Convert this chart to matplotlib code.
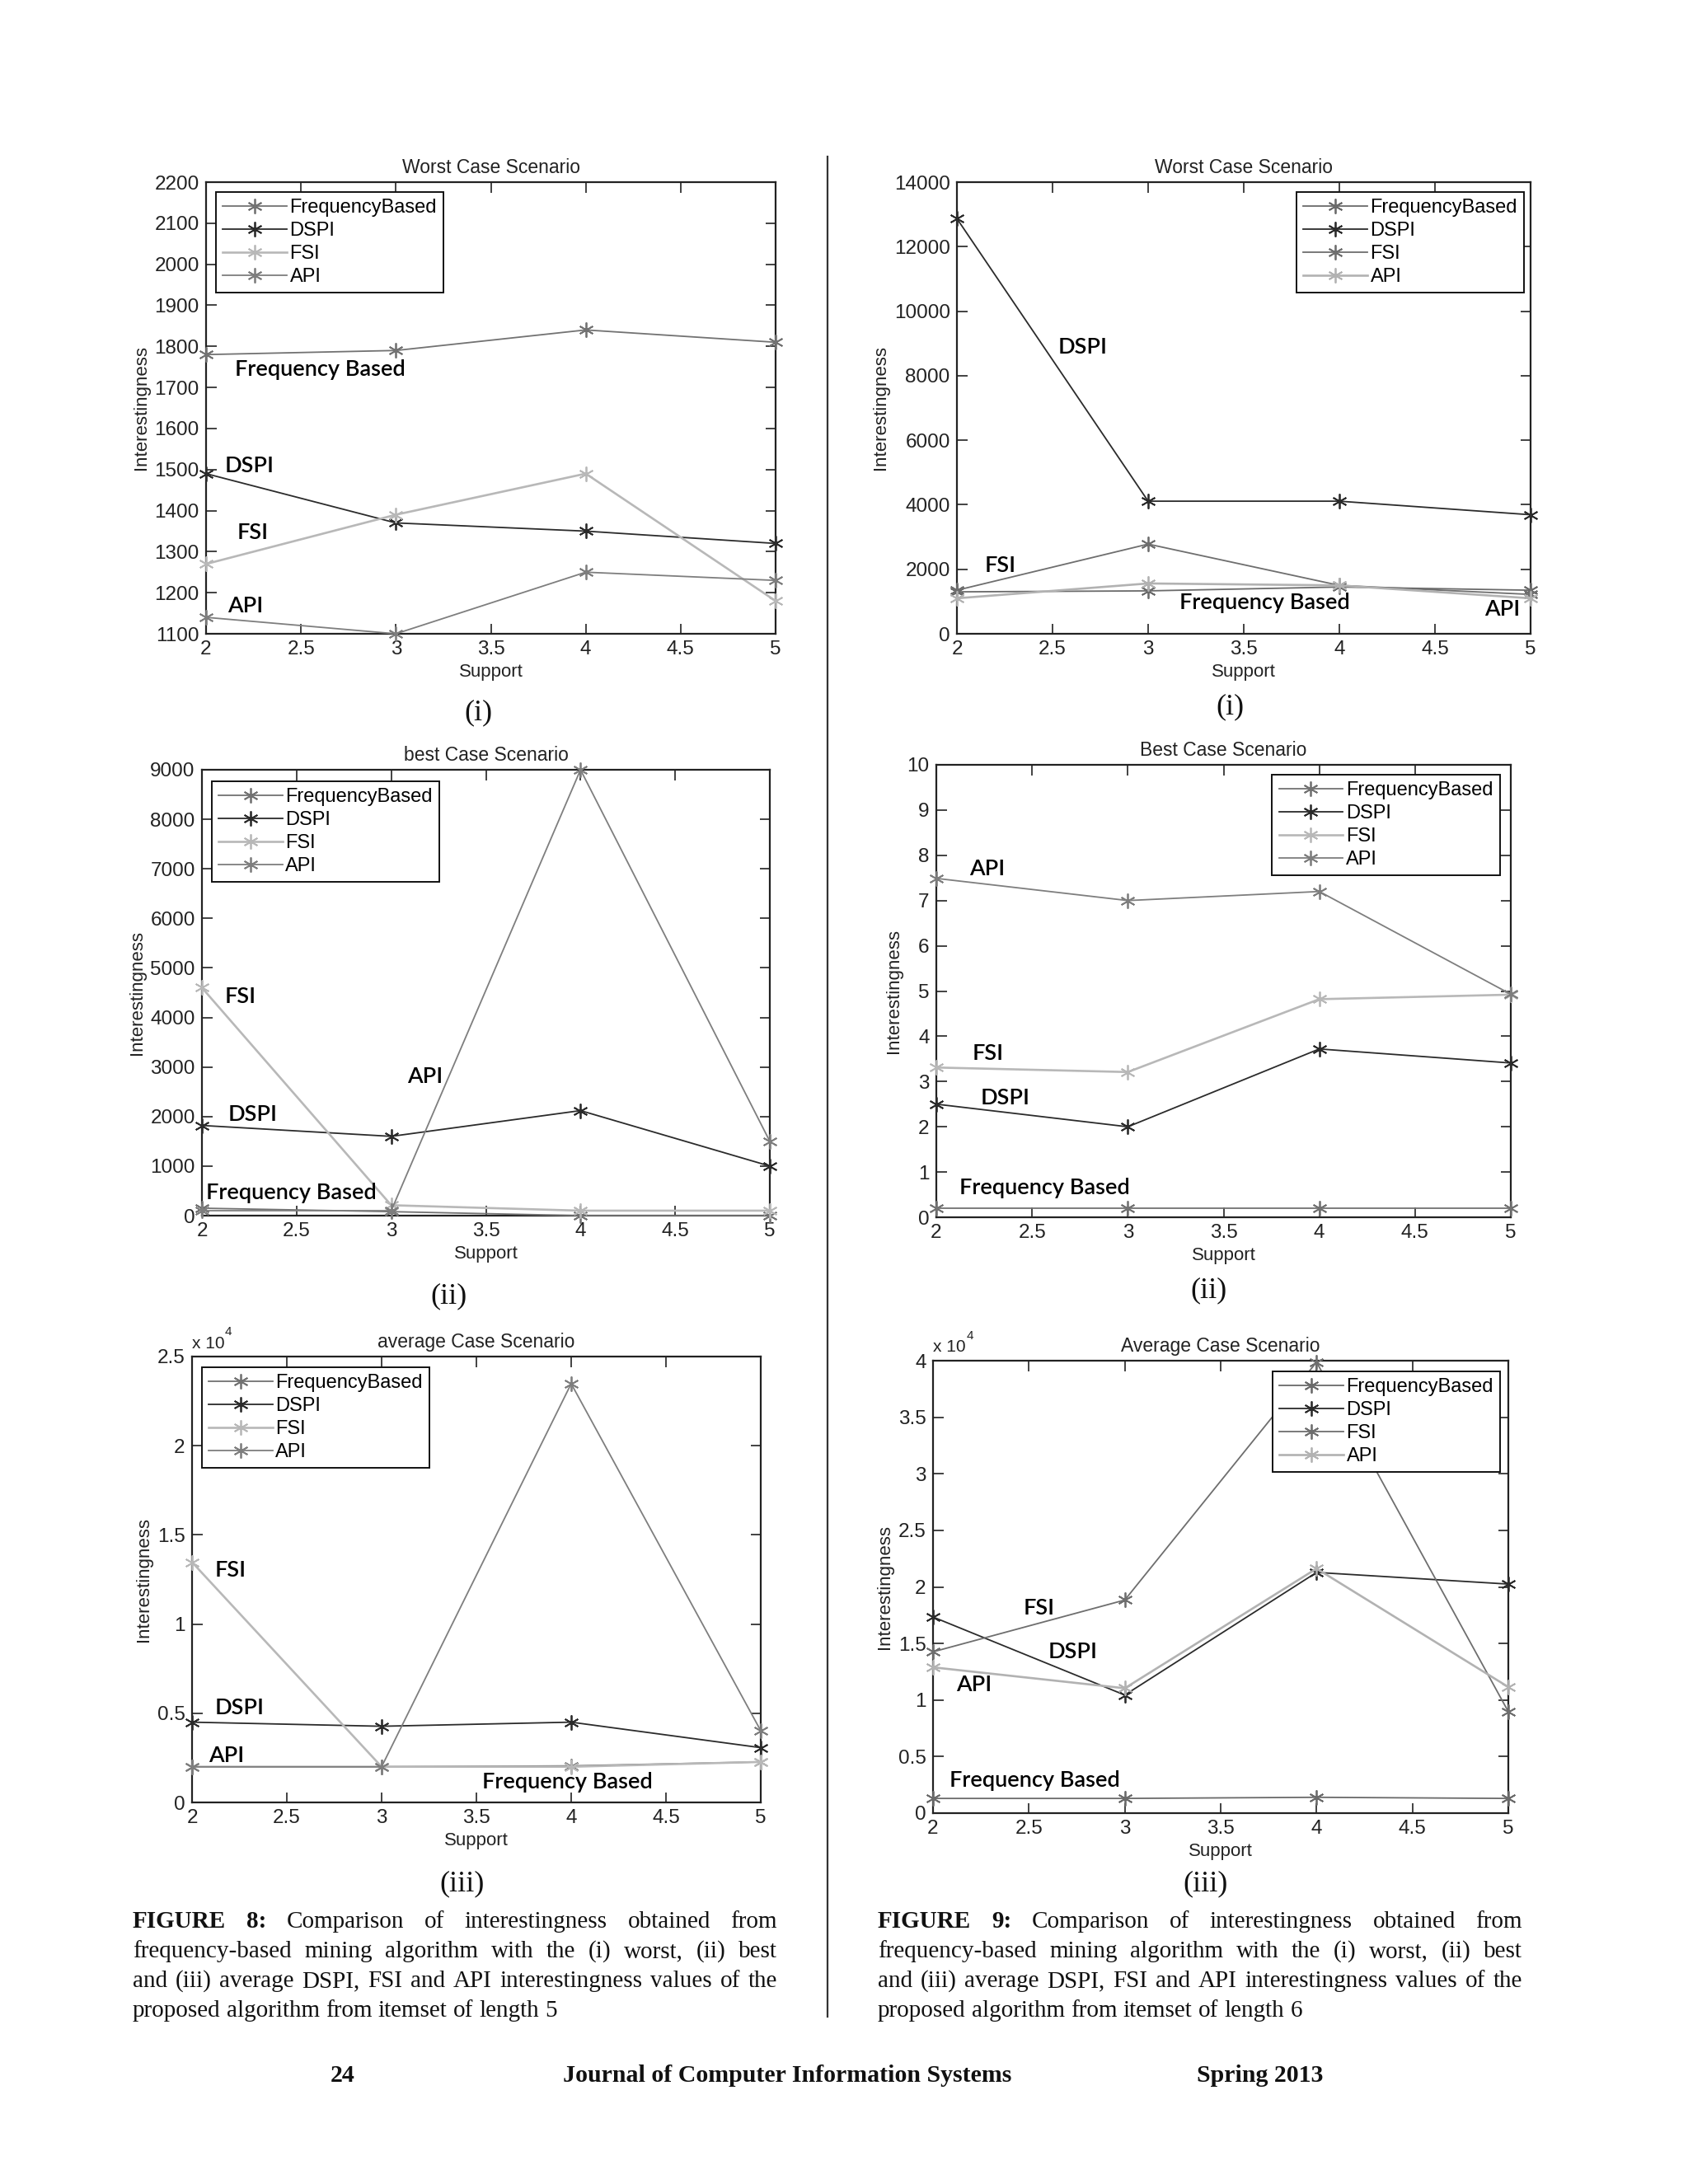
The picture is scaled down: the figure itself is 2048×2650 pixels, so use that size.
import matplotlib
matplotlib.use('Agg')
import matplotlib.pyplot as plt
from matplotlib.ticker import FuncFormatter, MultipleLocator
from matplotlib.lines import Line2D

plt.rcParams['font.family'] = ['Liberation Sans Narrow', 'Liberation Sans', 'DejaVu Sans']

support = [2, 3, 4, 5]
series_names = ['FrequencyBased', 'DSPI', 'FSI', 'API']

# itemset length 5
worst5_freq = [1780, 1790, 1840, 1810]
worst5_dspi = [1490, 1370, 1350, 1320]
worst5_fsi = [1270, 1390, 1490, 1180]
worst5_api = [1140, 1100, 1250, 1230]

best5_freq = [150, 80, 0, 0]
best5_dspi = [1820, 1600, 2120, 1000]
best5_fsi = [4600, 210, 100, 100]
best5_api = [100, 100, 9000, 1500]

avg5_freq = [2000, 2000, 2050, 2270]
avg5_dspi = [4500, 4270, 4500, 3070]
avg5_fsi = [13470, 2000, 2000, 2270]
avg5_api = [2000, 2000, 23480, 4020]

# itemset length 6
worst6_freq = [1300, 1330, 1450, 1350]
worst6_dspi = [12870, 4110, 4110, 3690]
worst6_fsi = [1350, 2780, 1500, 1220]
worst6_api = [1100, 1560, 1500, 1100]

best6_freq = [0.2, 0.2, 0.2, 0.2]
best6_dspi = [2.5, 2.0, 3.72, 3.41]
best6_fsi = [3.31, 3.21, 4.82, 4.92]
best6_api = [7.49, 7.0, 7.2, 4.93]

avg6_freq = [1300, 1300, 1400, 1300]
avg6_dspi = [17340, 10440, 21280, 20250]
avg6_fsi = [14260, 18840, 39870, 8970]
avg6_api = [12890, 11040, 21620, 11150]

# grey tones as in the printed figure
greys_a = ['#727272', '#2b2b2b', '#b8b8b8', '#7e7e7e']
greys_b = ['#6a6a6a', '#2b2b2b', '#6e6e6e', '#b2b2b2']

W, H = 2048, 2650
fig = plt.figure(figsize=(W / 100, H / 100), dpi=100)
fig.patch.set_facecolor('white')

asterisk = (6, 2, 0)


def px_axes(x0, y0, x1, y1):
    return fig.add_axes([x0 / W, 1 - y1 / H, (x1 - x0) / W, (y1 - y0) / H])


def draw_panel(ax, title, data, colors, ylim, ystep, scale, leg_loc, leg_anchor, notes):
    for vals, name, c in zip(data, series_names, colors):
        lw = 1.9 if c in ('#b8b8b8', '#b2b2b2') else 1.3
        ax.plot(support, vals, color=c, lw=lw, marker=asterisk, ms=13, mew=1.3,
                label=name, clip_on=False, zorder=3)
    ax.set_xlim(2, 5)
    ax.set_ylim(*ylim)
    ax.xaxis.set_major_locator(MultipleLocator(0.5))
    ax.yaxis.set_major_locator(MultipleLocator(ystep))
    ax.xaxis.set_major_formatter(FuncFormatter(lambda v, p: '%g' % v))
    ax.yaxis.set_major_formatter(FuncFormatter(lambda v, p: '%g' % (v / scale)))
    ax.tick_params(direction='in', length=9, width=1.2, top=True, right=True,
                   labelsize=17.5, pad=6, colors='#222222')
    for s in ax.spines.values():
        s.set_linewidth(1.6)
        s.set_color('#222222')
    ax.set_title(title, fontsize=16.5, color='#222222', pad=8)
    ax.set_xlabel('Support', fontsize=16, color='#222222', labelpad=4)
    ax.set_ylabel('Interestingness', fontsize=16, color='#222222', labelpad=4)
    leg = ax.legend(loc=leg_loc, bbox_to_anchor=leg_anchor, borderaxespad=0,
                    fontsize=17, handlelength=3.3, handletextpad=0.15,
                    labelspacing=0.25, borderpad=0.35, fancybox=False,
                    framealpha=1, edgecolor='#111111')
    leg.get_frame().set_linewidth(1.4)
    for txt, x, y in notes:
        ax.text(x, y, txt, family=['Lato', 'DejaVu Sans'], fontsize=19.5,
                fontweight='semibold', ha='left', va='center', color='black',
                zorder=5)
    if scale != 1:
        ax.text(0.0, 1.012, 'x 10', transform=ax.transAxes, fontsize=15,
                ha='left', va='bottom', color='#222222')
        ax.text(0.058, 1.042, '4', transform=ax.transAxes, fontsize=11,
                ha='left', va='bottom', color='#222222')


# FIGURE 8 (left column)
ax = px_axes(250, 221, 941, 769)
draw_panel(ax, 'Worst Case Scenario',
           [worst5_freq, worst5_dspi, worst5_fsi, worst5_api], greys_a,
           (1100, 2200), 100, 1, 'upper left', (0.017, 0.978),
           [('Frequency Based', 2.15, 1743), ('DSPI', 2.10, 1508),
            ('FSI', 2.165, 1345), ('API', 2.115, 1168)])

ax = px_axes(245, 934, 934, 1475)
draw_panel(ax, 'best Case Scenario',
           [best5_freq, best5_dspi, best5_fsi, best5_api], greys_a,
           (0, 9000), 1000, 1, 'upper left', (0.017, 0.974),
           [('FSI', 2.12, 4420), ('API', 3.085, 2810),
            ('DSPI', 2.137, 2030), ('Frequency Based', 2.02, 460)])

ax = px_axes(233, 1646, 923, 2187)
draw_panel(ax, 'average Case Scenario',
           [avg5_freq, avg5_dspi, avg5_fsi, avg5_api], greys_a,
           (0, 25000), 5000, 1e4, 'upper left', (0.017, 0.976),
           [('FSI', 2.12, 13000), ('DSPI', 2.12, 5300),
            ('API', 2.087, 2620), ('Frequency Based', 3.53, 1130)])

# FIGURE 9 (right column)
ax = px_axes(1161, 221, 1857, 769)
draw_panel(ax, 'Worst Case Scenario',
           [worst6_freq, worst6_dspi, worst6_fsi, worst6_api], greys_b,
           (0, 14000), 2000, 1, 'upper right', (0.989, 0.978),
           [('DSPI', 2.53, 8890), ('FSI', 2.143, 2120),
            ('Frequency Based', 3.163, 970), ('API', 4.76, 760)])

ax = px_axes(1136, 928, 1833, 1477)
draw_panel(ax, 'Best Case Scenario',
           [best6_freq, best6_dspi, best6_fsi, best6_api], greys_a,
           (0, 10), 1, 1, 'upper right', (0.981, 0.978),
           [('API', 2.173, 7.69), ('FSI', 2.187, 3.62),
            ('DSPI', 2.231, 2.64), ('Frequency Based', 2.12, 0.64)])

ax = px_axes(1132, 1651, 1830, 2200)
draw_panel(ax, 'Average Case Scenario',
           [avg6_freq, avg6_dspi, avg6_fsi, avg6_api], greys_b,
           (0, 40000), 5000, 1e4, 'upper right', (0.986, 0.976),
           [('FSI', 2.473, 18080), ('DSPI', 2.60, 14260),
            ('API', 2.122, 11320), ('Frequency Based', 2.088, 2890)])

# sub captions
serif = ['Liberation Serif', 'DejaVu Serif']
for txt, x, y in [('(i)', 580, 865), ('(ii)', 544, 1573), ('(iii)', 561, 2286),
                  ('(i)', 1492, 858), ('(ii)', 1467, 1566), ('(iii)', 1463, 2286)]:
    fig.text(x / W, 1 - y / H, txt, family=serif, fontsize=26, ha='center',
             va='center', color='#111111')

# column divider
fig.add_artist(Line2D([1004 / W, 1004 / W], [1 - 190 / H, 1 - 2447 / H],
                      transform=fig.transFigure, color='#333333', lw=1.6))

renderer = fig.canvas.get_renderer()


def text_width(s, size, weight='normal'):
    t = fig.text(0, 0, s, family=serif, fontsize=size, fontweight=weight)
    w = t.get_window_extent(renderer).width
    t.remove()
    return w


def justified(lines, x0, x1, ys, size):
    sw = text_width('a a', size) - 2 * text_width('a', size)
    for i, (words, y) in enumerate(zip(lines, ys)):
        objs = []
        for w, bold in words:
            t = fig.text(0, 1 - y / H, w, family=serif, fontsize=size,
                         fontweight='bold' if bold else 'normal',
                         ha='left', va='baseline', color='#111111')
            objs.append(t)
        widths = [t.get_window_extent(renderer).width for t in objs]
        if i == len(lines) - 1:
            gap = sw
        else:
            gap = (x1 - x0 - sum(widths)) / (len(objs) - 1)
        x = x0
        for t, wd in zip(objs, widths):
            t.set_x(x / W)
            x += wd + gap


def caption(num, last):
    head = [('FIGURE', True), (num + ':', True)]
    l1 = head + [(w, False) for w in 'Comparison of interestingness obtained from'.split()]
    l2 = [(w, False) for w in 'frequency-based mining algorithm with the (i) worst, (ii) best'.split()]
    l3 = [(w, False) for w in 'and (iii) average DSPI, FSI and API interestingness values of the'.split()]
    l4 = [(w, False) for w in ('proposed algorithm from itemset of length ' + last).split()]
    return [l1, l2, l3, l4]


cap_y = [2339, 2375, 2411, 2447]
justified(caption('8', '5'), 161, 943, cap_y, 21)
justified(caption('9', '6'), 1065, 1847, cap_y, 21)

# running footer
for txt, x in [('24', 416), ('Journal of Computer Information Systems', 955),
               ('Spring 2013', 1529)]:
    fig.text(x / W, 1 - 2518 / H, txt, family=serif, fontsize=21.5,
             fontweight='bold', ha='center', va='center', color='#111111')

fig.savefig('out.png', dpi=100, facecolor='white')
